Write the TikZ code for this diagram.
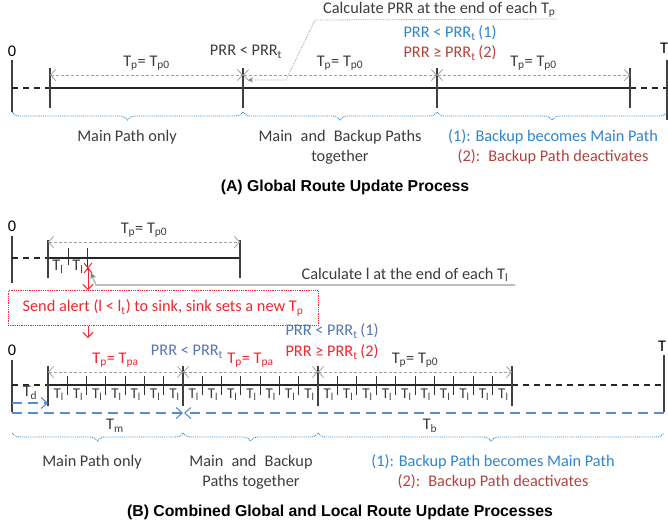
\documentclass[tikz,border=0pt]{standalone}
\usepackage{fontspec}
\setmainfont{Carlito}
\newfontfamily\titolofont{Liberation Sans}
\usetikzlibrary{arrows.meta,decorations.pathreplacing}

\definecolor{grigiotesto}{RGB}{60,60,60}
\definecolor{blu}{RGB}{46,132,205}
\definecolor{rossoscuro}{RGB}{178,66,62}
\definecolor{bluacciaio}{RGB}{84,118,178}
\definecolor{rosso}{RGB}{238,40,44}
\definecolor{blutratto}{RGB}{88,140,208}
\definecolor{grigio}{RGB}{160,160,160}

\newcommand{\tsub}[1]{T\textsubscript{#1}}

\tikzset{
  testo/.style={text=grigiotesto, font=\fontsize{16.3}{19}\selectfont, inner sep=1pt},
  titolo/.style={font=\titolofont\bfseries\fontsize{15.8}{19}\selectfont},
  asse/.style={line width=1.2pt, black!85},
  tratto/.style={dash pattern=on 6pt off 5pt},
  tacca/.style={line width=1.3pt, black!75},
  tacchina/.style={line width=0.9pt, black!80},
  freccia/.style={densely dashed, grigio, line width=0.8pt,
    {Straight Barb[length=5pt,width=11pt]}-{Straight Barb[length=5pt,width=11pt]}},
  durata/.style={blutratto, line width=1.1pt, dash pattern=on 10pt off 6pt,
    -{Straight Barb[length=6pt,width=11pt]}},
  graffa/.style={decorate, decoration={brace, mirror, amplitude=8pt},
    densely dotted, blu, line width=0.9pt},
  richiamo/.style={densely dotted, grigio, line width=0.8pt,
    -{Stealth[length=5pt,width=5pt,gray]}},
}

\begin{document}
\begin{tikzpicture}[x=1pt, y=-1pt]
  \useasboundingbox (0,0) rectangle (668,525);

  % (A) asse dei tempi
  \draw[tacca] (12,60) -- (12,112);
  \draw[asse, tratto] (12,88) -- (50,88);
  \draw[asse] (50,88) -- (630,88);
  \draw[asse, tratto] (630,88) -- (667,88);
  \draw[tacca] (667,60) -- (667,120);
  \foreach \x in {50,243,437,630}
    \draw[tacca] (\x,68) -- (\x,108);
  \node[testo, text=black] (zeroA) at (12,51) {0};
  \node[testo, text=black] (fineA) at (664,48) {T};

  % (A) periodi T_p
  \foreach \a/\b/\m in {50/243/pa1, 243/437/pa2, 437/630/pa3}
    \draw[freccia] (\a,75) -- (\b,75)
      node[midway, above=3pt, testo] (\m) {\tsub{p}= \tsub{p0}};

  % (A) condizioni
  \node[testo] (condA) at (246,52) {PRR < PRR\textsubscript{t}};
  \node[testo, text=blu] (condA1) at (450,33) {PRR < PRR\textsubscript{t}\,(1)};
  \node[testo, text=rossoscuro] (condA2) at (450,53) {PRR ≥ PRR\textsubscript{t}\,(2)};

  % (A) richiamo
  \node[testo, anchor=south west] (calcA) at (322,19) {Calculate PRR at the end of each \tsub{p}};
  \coordinate (puntoA) at (248,80);
  \draw[richiamo] (calcA.south east) -- (315,20) -- (286,80) -- (puntoA);

  % (A) graffe
  \draw[graffa] (12,112) -- (243,112);
  \draw[graffa] (243,112) -- (437,112);
  \draw[graffa] (437,112) -- (667,112);
  \node[testo] (solaA) at (127,137) {Main Path only};
  \node[testo] (insiemeA) at (340,137) {Main\enspace and\enspace Backup Paths};
  \node[testo] (insiemeA2) at (340,157) {together};
  \node[testo, text=blu] (esitoA1) at (553,137) {(1): Backup becomes Main Path};
  \node[testo, text=rossoscuro] (esitoA2) at (553,157) {(2):\enspace Backup Path deactivates};

  \node[titolo] (titoloA) at (345,187) {(A) Global Route Update Process};

  % (B) primo periodo
  \draw[tacca] (12,236) -- (12,283);
  \draw[asse, tratto] (12,258) -- (48,258);
  \draw[asse] (48,258) -- (240,258);
  \draw[tacca] (48,240) -- (48,278);
  \draw[tacca] (240,240) -- (240,278);
  \draw[tacchina] (68,248) -- (68,265);
  \draw[tacchina] (87,248) -- (87,270);
  \node[testo, text=black] (zeroB) at (12,226) {0};
  \node[testo] (tl1) at (58,267) {\tsub{l}};
  \node[testo] (tl2) at (78,267) {\tsub{l}};
  \draw[freccia] (48,242) -- (240,242)
    node[midway, above=3pt, testo] (pb0) {\tsub{p}= \tsub{p0}};

  % (B) allarme
  \coordinate (allarme) at (88,268);
  \draw[rosso, line width=1pt] (84,263) -- (92,273) (92,263) -- (84,273);
  \node[draw=rosso, densely dotted, line width=0.8pt, minimum width=310pt,
    minimum height=35pt, text=rosso, font=\fontsize{16.3}{19}\selectfont]
    (avviso) at (163,308) {Send alert (l < l\textsubscript{t}) to sink, sink sets a new \tsub{p}};
  \draw[rosso, line width=1pt, -{Straight Barb[length=5pt,width=10pt]}]
    (allarme) -- (avviso.north -| allarme);
  \coordinate (ripresa) at (88,338);
  \draw[rosso, line width=1pt, -{Straight Barb[length=5pt,width=10pt]}]
    (avviso.south -| allarme) -- (ripresa);

  % (B) richiamo
  \node[testo, anchor=south] (calcB) at (405,283) {Calculate l at the end of each \tsub{l}};
  \coordinate (puntoB) at (91,273);
  \draw[grigio!70, line width=1.6pt, -{Stealth[length=6pt,width=6pt,gray]}]
    (515,285) -- (96,285) -- (puntoB);

  % (B) asse dei tempi
  \draw[tacca] (12,360) -- (12,412);
  \draw[asse, tratto] (12,385) -- (48,385);
  \draw[asse] (48,385) -- (512,385);
  \draw[asse, tratto] (512,385) -- (664,385);
  \draw[tacca] (664,355) -- (664,412);
  \foreach \x in {48,183,318,512}
    \draw[tacca] (\x,366) -- (\x,406);
  \node[testo, text=black] (zeroC) at (12,350) {0};
  \node[testo, text=black] (fineC) at (662,346) {T};

  % (B) intervalli T_l
  \foreach \a/\b/\n in {48/183/7, 183/318/7, 318/512/10} {
    \pgfmathsetmacro\d{(\b-\a)/\n}
    \pgfmathtruncatemacro\m{\n-1}
    \foreach \i in {1,...,\m}
      \draw[tacchina] ({\a+\i*\d},376) -- ({\a+\i*\d},395);
    \foreach \i in {1,...,\n}
      \node[testo, font=\fontsize{15}{18}\selectfont] at ({\a+(\i-0.5)*\d+1},395) {\tsub{l}};
  }

  % (B) periodi T_p
  \draw[freccia] (48,372) -- (183,372)
    node[midway, above=3pt, testo, text=rosso] (pb1) {\tsub{p}= \tsub{pa}};
  \draw[freccia] (183,372) -- (318,372)
    node[midway, above=3pt, testo, text=rosso] (pb2) {\tsub{p}= \tsub{pa}};
  \draw[freccia] (318,372) -- (512,372)
    node[midway, above=3pt, testo] (pb3) {\tsub{p}= \tsub{p0}};

  % (B) condizioni
  \node[testo, text=bluacciaio] (condB) at (187,352) {PRR < PRR\textsubscript{t}};
  \node[testo, text=bluacciaio] (condB1) at (332,331) {PRR < PRR\textsubscript{t}\,(1)};
  \node[testo, text=rosso] (condB2) at (332,352) {PRR ≥ PRR\textsubscript{t}\,(2)};

  % (B) durate
  \draw[durata] (12,403) -- (48,403);
  \node[testo] (td) at (30,393) {\tsub{d}};
  \draw[durata] (12,413) -- (183,413);
  \node[testo] (tm) at (115,426) {\tsub{m}};
  \draw[durata] (664,413) -- (184,413);
  \node[testo] (tb) at (430,426) {\tsub{b}};

  % (B) graffe
  \draw[graffa] (12,433) -- (183,433);
  \draw[graffa] (183,433) -- (318,433);
  \draw[graffa] (318,433) -- (664,433);
  \node[testo] (solaB) at (92,462) {Main Path only};
  \node[testo] (insiemeB) at (251,462) {Main\enspace and\enspace Backup};
  \node[testo] (insiemeB2) at (251,482) {Paths together};
  \node[testo, text=blu] (esitoB1) at (493,462) {(1): Backup Path becomes Main Path};
  \node[testo, text=rossoscuro] (esitoB2) at (493,482) {(2):\enspace Backup Path deactivates};

  \node[titolo] (titoloB) at (340,512) {(B) Combined Global and Local Route Update Processes};
\end{tikzpicture}
\end{document}
